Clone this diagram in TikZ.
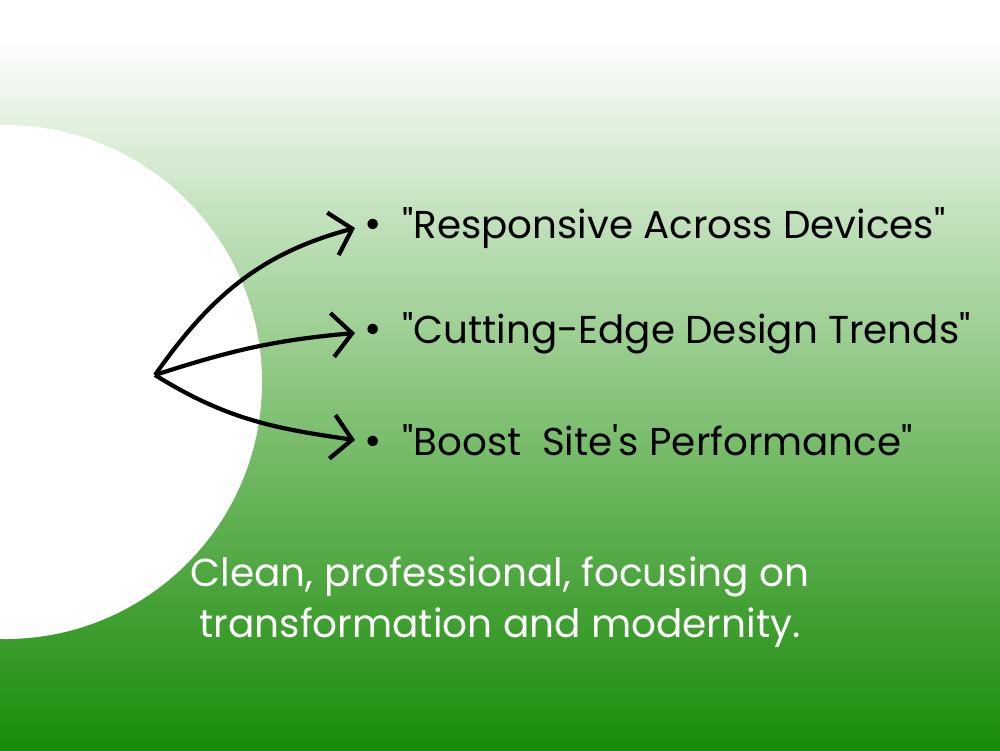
\documentclass[tikz,border=0pt]{standalone}
\usepackage{fontspec}
\setmainfont{Poppins}[Ligatures = TeXOff]
\usetikzlibrary{arrows.meta}
\definecolor{bandA}{RGB}{200,228,195}
\definecolor{bandB}{RGB}{135,196,122}
\definecolor{bandC}{RGB}{70,162,55}
\definecolor{bandD}{RGB}{25,140,10}
\begin{document}
\begin{tikzpicture}[line width = 1pt,
                        point/.style = {anchor = west, inner xsep = 0.08cm, inner ysep = 0pt, font = \fontsize{11.05}{12}\selectfont},
                        note/.style = {align = center, text = white, font = \fontsize{11.1}{14.5}\selectfont},
                        link/.style = {-{Straight Barb[length = 2mm, width = 4.4mm]}, line width = 1.2pt}]
        \useasboundingbox (0,0) rectangle (10,7.5);
        \fill [white] (0,7.1) rectangle (10,7.5);
        \shade [top color = white, bottom color = bandA] (0,5.49) rectangle (10,7.11);
        \shade [top color = bandA, bottom color = bandB] (0,3.49) rectangle (10,5.51);
        \shade [top color = bandB, bottom color = bandC] (0,1.49) rectangle (10,3.51);
        \shade [top color = bandC, bottom color = bandD] (0,0) rectangle (10,1.51);
        \fill [white] (0.05,3.68) circle (2.57);

        \coordinate (hub) at (1.55,3.75);
        \node [point] (P1) at (3.55,5.22) {{\large\textbullet}\hspace{0.2cm}"Responsive Across Devices"};
        \node [point] (P2) at (3.55,4.17) {{\large\textbullet}\hspace{0.2cm}"Cutting-Edge Design Trends"};
        \node [point] (P3) at (3.55,3.10) {{\large\textbullet}\hspace{0.2cm}"Boost\ \ Site's Performance"};
        \node [note] (tag) at (5.0,1.48) {Clean, professional, focusing on\\transformation and modernity.};

        \draw [link] (hub) to [out = 55, in = 195] (P1.west);
        \draw [link] (hub) to [out = 18, in = 185] (P2.west);
        \draw [link] (hub) to [out = -32, in = 172] (P3.west);
        \end{tikzpicture}
\end{document}
